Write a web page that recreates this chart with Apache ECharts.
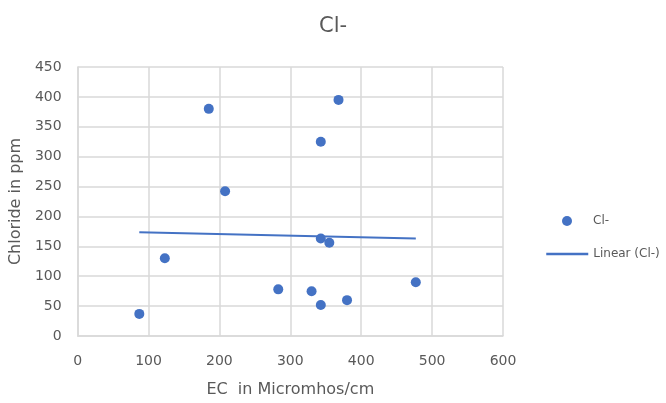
<!DOCTYPE html>
<html>
<head>
<meta charset="utf-8">
<title>Cl-</title>
<script src="https://cdn.jsdelivr.net/npm/echarts@6/dist/echarts.min.js"></script>
<style>
  html, body { margin: 0; padding: 0; background: #ffffff; }
  #chart { width: 666px; height: 403px; }
</style>
</head>
<body>
<div id="chart"></div>
<script>
// Electrical conductivity (Micromhos/cm) of each sample
const ecValues = [87, 123, 185, 208, 283, 330, 343, 380, 343, 368, 343, 355, 477];
// Chloride concentration (ppm) of the same samples
const chlorideValues = [37, 130, 380, 242, 78, 75, 52, 60, 325, 395, 163, 156, 90];

const seriesName = 'Cl-';
const trendName = 'Linear (Cl-)';
const xTickMax = 600;
const yTickMax = 450;

const points = ecValues.map((x, i) => [x, chlorideValues[i]]);

// Least-squares fit across the samples, drawn over the sampled EC range
function linearFit(xs, ys) {
  const n = xs.length;
  const mx = xs.reduce((a, b) => a + b, 0) / n;
  const my = ys.reduce((a, b) => a + b, 0) / n;
  let sxy = 0, sxx = 0;
  for (let i = 0; i < n; i++) {
    sxy += (xs[i] - mx) * (ys[i] - my);
    sxx += (xs[i] - mx) * (xs[i] - mx);
  }
  const slope = sxy / sxx;
  return { slope: slope, intercept: my - slope * mx };
}
const fit = linearFit(ecValues, chlorideValues);
const xMin = Math.min.apply(null, ecValues);
const xMax = Math.max.apply(null, ecValues);
const trendPoints = [
  [xMin, fit.intercept + fit.slope * xMin],
  [xMax, fit.intercept + fit.slope * xMax]
];

const textColor = '#595959';
const gridColor = '#d9d9d9';
const markColor = '#4472C4';
const fontFamily = 'DejaVu Sans, sans-serif';

const legendText = { color: textColor, fontSize: 12, fontFamily: fontFamily, lineHeight: 16 };

const chart = echarts.init(document.getElementById('chart'), null, { renderer: 'canvas' });
chart.setOption({
  animation: false,
  backgroundColor: '#ffffff',
  title: {
    text: seriesName,
    left: 'center',
    top: 11,
    textStyle: { color: textColor, fontSize: 21, fontWeight: 'normal', fontFamily: fontFamily }
  },
  legend: [
    {
      orient: 'vertical',
      align: 'left',
      left: 562,
      top: 213,
      padding: 0,
      itemWidth: 42,
      itemHeight: 10,
      textStyle: legendText,
      data: [{ name: seriesName, icon: 'circle' }]
    },
    {
      orient: 'vertical',
      align: 'left',
      left: 545,
      top: 246,
      padding: 0,
      itemWidth: 42,
      itemHeight: 10,
      textStyle: legendText,
      // line-only entry: the line series' own icon, with its marker hidden
      data: [{ name: trendName, itemStyle: { opacity: 0 }, lineStyle: { width: 2.5, color: markColor } }]
    }
  ],
  grid: { left: 77, right: 163, top: 67, bottom: 65 },
  xAxis: {
    type: 'value',
    min: 0,
    max: xTickMax,
    interval: 100,
    name: 'EC  in Micromhos/cm',
    nameLocation: 'middle',
    nameGap: 46,
    nameTextStyle: { color: textColor, fontSize: 16, fontFamily: fontFamily },
    axisLine: { show: true, lineStyle: { color: gridColor, width: 1.5 } },
    axisTick: { show: false },
    axisLabel: { color: textColor, fontSize: 14, fontFamily: fontFamily, margin: 18 },
    splitLine: { show: true, lineStyle: { color: gridColor, width: 1.5 } }
  },
  yAxis: {
    type: 'value',
    min: 0,
    max: yTickMax,
    interval: 50,
    name: 'Chloride in ppm',
    nameLocation: 'middle',
    nameGap: 51,
    nameTextStyle: { color: textColor, fontSize: 16, fontFamily: fontFamily },
    axisLine: { show: true, lineStyle: { color: gridColor, width: 1.5 } },
    axisTick: { show: false },
    axisLabel: { color: textColor, fontSize: 14, fontFamily: fontFamily, margin: 16 },
    splitLine: { show: true, lineStyle: { color: gridColor, width: 1.5 } }
  },
  series: [
    {
      name: seriesName,
      type: 'scatter',
      data: points,
      symbol: 'circle',
      symbolSize: 10,
      itemStyle: { color: markColor, opacity: 1 },
      z: 2
    },
    {
      name: trendName,
      type: 'line',
      data: trendPoints,
      symbol: 'none',
      showSymbol: false,
      lineStyle: { color: markColor, width: 2 },
      itemStyle: { color: markColor },
      z: 3
    }
  ]
});
</script>
</body>
</html>
